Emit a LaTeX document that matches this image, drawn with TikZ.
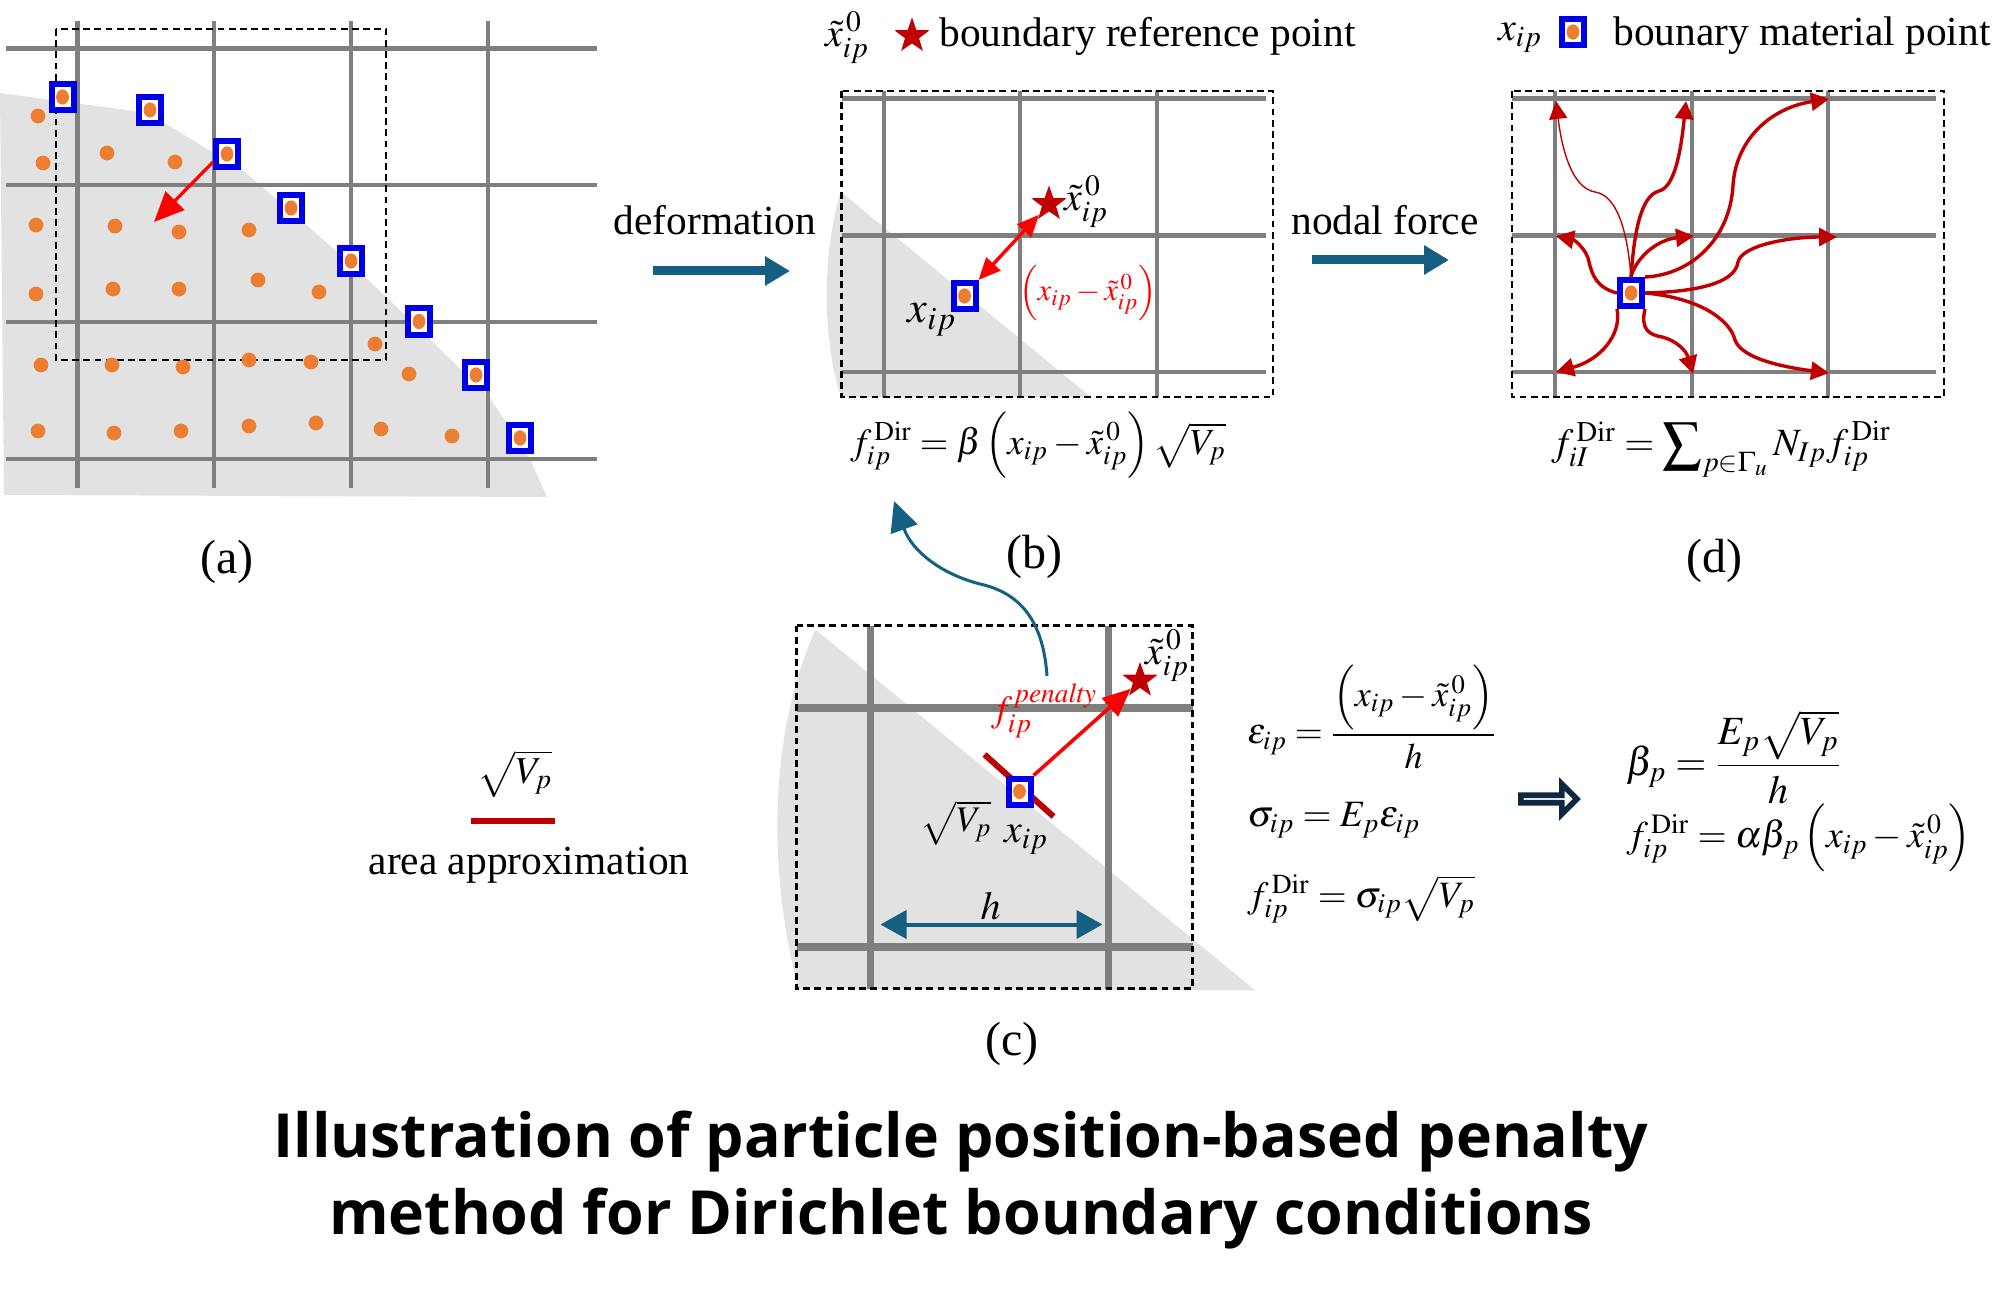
\documentclass[tikz,border=0pt]{standalone}
\usepackage{mathptmx}
\usepackage[no-math]{fontspec}
\setmainfont{Liberation Serif}
\newfontfamily\titlefont{Open Sans}
\usetikzlibrary{arrows.meta, shapes.geometric, shapes.arrows}
\definecolor{gridgray}{HTML}{7F7F7F}
\definecolor{domaingray}{HTML}{E2E2E2}
\definecolor{dotorange}{HTML}{ED7D31}
\definecolor{boxblue}{HTML}{0000E6}
\definecolor{darkred}{HTML}{C00000}
\definecolor{flowteal}{HTML}{156082}
\definecolor{navy}{HTML}{0E2841}
\newcommand{\xip}{x_{ip}}
\newcommand{\xipref}{\tilde{x}_{ip}^{\,0}}
\newcommand{\fdir}{f_{ip}^{\,\mathrm{Dir}}}
\newcommand{\sqV}{\sqrt{V_{p}}}

\begin{document}
\begin{tikzpicture}[
        x=0.5pt, y=-0.5pt,
        solidarea/.style={fill=domaingray},
        gridline/.style={draw=gridgray, line width=2.3pt},
        gridthick/.style={draw=gridgray, line width=3.6pt},
        window/.style={draw=black, line width=1.1pt, dash pattern=on 3.4pt off 2.2pt},
        partdot/.style={fill=dotorange},
        matpoint/.style={rectangle, draw=boxblue, line width=3pt, fill=white, inner sep=0pt,
            minimum width=11pt, minimum height=13pt,
            path picture={\fill[dotorange] (path picture bounding box.center) ellipse (3.2pt and 3.8pt);}},
        refstar/.style={star, star points=5, star point ratio=2.5, fill=darkred, inner sep=0pt, minimum size=18.5pt},
        txt/.style={font=\fontsize{20.7}{24}\selectfont, inner sep=0pt},
        sublabel/.style={font=\fontsize{24}{28}\selectfont, inner sep=0pt},
        eqn/.style={font=\fontsize{18.6}{22}\selectfont, inner sep=0pt},
        redarrow/.style={draw=red, line width=1.7pt, -{Triangle[length=11pt,width=9.5pt]}},
        flow/.style={draw=flowteal, line width=4.5pt, -{Triangle[length=12.5pt,width=14pt]}},
        nodal/.style={draw=darkred, line width=1.7pt, -{Triangle[length=9pt,width=9pt]}}]
    \useasboundingbox (0,0) rectangle (2013,1289);

    % panel a
    \fill[solidarea] (0,93) -- (134,111) -- (166,124) -- (245,172) -- (356,268) -- (435,344)
        -- (490,398) -- (530,459) -- (547,497) -- (4,495) -- cycle;
    \foreach \y in {48.6,185,322,459}
        \draw[gridline] (6,\y) -- (597,\y);
    \foreach \x in {77.5,214,351,488}
        \draw[gridline] (\x,21) -- (\x,488);
    \draw[window] (56,29) rectangle (386,360);
    \foreach \x/\y in {38/116,43/163,107/153,175/162,36/225,115/226,179/232,249/230,
            36/294,113/289,179/289,258/280,319/292,41/365,112/365,183/367,249/360,311/362,
            375/344,409/374,38/431,114/433,181/431,249/426,316/423,381/429,452/436}
        \fill[partdot] (\x,\y) circle (3.7pt);
    \foreach \x/\y [count=\i] in {62.5/97,150/110,227/154,291/208,351/261,419/321.5,476/375,520/438}
        \node[matpoint] (amp\i) at (\x,\y) {};
    \coordinate (atip) at (154,222);
    \draw[redarrow, line width=1.6pt, -{Triangle[length=15pt,width=13pt]}] ([yshift=-4pt]amp3.west) -- (atip);
    \node[sublabel] (alabel) at (227,562) {(a)};

    % panel b
    \node[eqn, font=\fontsize{20}{24}\selectfont] (blegx) at (847,38) {$\xipref$};
    \node[refstar] (blegstar) at (912,36) {};
    \node[txt, anchor=west] (blegtxt) at (939,36) {boundary reference point};
    \fill[solidarea] (841,192) .. controls (822,250) and (822,340) .. (841,397) -- (1091,397) -- cycle;
    \foreach \y in {98.6,235.5,372}
        \draw[gridline] (842,\y) -- (1266,\y);
    \foreach \x in {884,1020,1157}
        \draw[gridline] (\x,91) -- (\x,397);
    \draw[window] (841.5,91) rectangle (1273,397);
    \node[matpoint] (bmp) at (964.5,296) {};
    \node[refstar] (bstar) at (1049,204) {};
    \draw[redarrow, {Triangle[length=11pt,width=9.5pt]}-{Triangle[length=11pt,width=9.5pt]}] (bmp.north east) -- (bstar);
    \node[eqn, font=\fontsize{20}{24}\selectfont] (bxref) at (1086,202) {$\xipref$};
    \node[eqn, font=\fontsize{22}{26}\selectfont] (bxip) at (932,320) {$\xip$};
    \node[eqn, text=red, font=\fontsize{15.4}{18}\selectfont] (bdiff) at (1088,293) {$\left(\xip-\xipref\right)$};
    \node[eqn, font=\fontsize{18.4}{22}\selectfont] (beq) at (1038,445) {$\fdir=\beta\left(\xip-\xipref\right)\sqV$};
    \node[sublabel] (blabel) at (1034,557) {(b)};

    % arrows between panels
    \node[txt] (deform) at (715,220) {deformation};
    \coordinate (defa) at (653,271);
    \coordinate (defb) at (790,271);
    \draw[flow] (defa) -- (defb);
    \node[txt] (nodalf) at (1385,220) {nodal force};
    \coordinate (noda) at (1312,260);
    \coordinate (nodb) at (1449,260);
    \draw[flow] (noda) -- (nodb);

    % panel d
    \node[eqn, font=\fontsize{20}{24}\selectfont] (dlegx) at (1520,38) {$\xip$};
    \node[matpoint] (dlegmp) at (1573,32) {};
    \node[txt, anchor=west] (dlegtxt) at (1613,36) {bounary material point};
    \foreach \y in {98.6,235.5,372}
        \draw[gridline] (1512,\y) -- (1936,\y);
    \foreach \x in {1555,1692,1828}
        \draw[gridline] (\x,91) -- (\x,397);
    \draw[window] (1512,91) rectangle (1944,397);
    \node[matpoint] (dmp) at (1631,293) {};
    \coordinate (n00) at (1556,101);
    \coordinate (n10) at (1686,101);
    \coordinate (n20) at (1829,99);
    \coordinate (n01) at (1556,236);
    \coordinate (n11) at (1694,236);
    \coordinate (n21) at (1837,237);
    \coordinate (n02) at (1556,372);
    \coordinate (n12) at (1693,374);
    \coordinate (n22) at (1829,373);
    \draw[nodal, line width=0.7pt] (dmp.north) .. controls (1627,225) and (1615,195) .. (1595,192) .. controls (1572,188) and (1562,150) .. (n00);
    \draw[nodal] (dmp.north) .. controls (1634,235) and (1640,196) .. (1659,191) .. controls (1675,187) and (1681,150) .. (n10);
    \draw[nodal] (dmp.north east) .. controls (1690,275) and (1730,240) .. (1733,185) .. controls (1736,140) and (1770,108) .. (n20);
    \draw[nodal] (dmp.west) .. controls (1597,288) and (1592,275) .. (1589,262) .. controls (1587,250) and (1575,240) .. (n01);
    \draw[nodal] (dmp.north) .. controls (1635,260) and (1655,240) .. (n11);
    \draw[nodal] (dmp.east) .. controls (1690,292) and (1735,285) .. (1738,262) .. controls (1742,245) and (1790,237) .. (n21);
    \draw[nodal] (dmp.south west) .. controls (1622,335) and (1600,360) .. (n02);
    \draw[nodal] (dmp.south east) .. controls (1640,330) and (1650,335) .. (1662,337) .. controls (1675,340) and (1686,350) .. (n12);
    \draw[nodal] (dmp.east) .. controls (1700,298) and (1730,320) .. (1735,340) .. controls (1742,360) and (1790,368) .. (n22);
    \node[matpoint] at (dmp) {};
    \node[eqn, font=\fontsize{19.3}{23}\selectfont] (deq) at (1721,449) {$f_{iI}^{\,\mathrm{Dir}}=\displaystyle\sum\nolimits_{p\in\Gamma_{u}}N_{Ip}\fdir$};
    \node[sublabel] (dlabel) at (1714,561) {(d)};

    % panel c
    \fill[solidarea] (815.5,629.5) -- (1255.5,990.5) -- (798.5,988.5) .. controls (768,875) and (768,735) .. (815.5,629.5) -- cycle;
    \foreach \y in {707.5,947}
        \draw[gridthick, line width=4pt] (796.5,\y) -- (1192.5,\y);
    \foreach \x in {870.5,1108.5}
        \draw[gridthick] (\x,625.5) -- (\x,988.5);
    \draw[window] (796.5,625.5) rectangle (1192.5,988.5);
    \coordinate (acrossa) at (984.5,754.5);
    \coordinate (acrossb) at (1053.5,816.5);
    \draw[darkred, line width=3pt] (acrossa) -- (acrossb);
    \node[matpoint] (cmp) at (1019.5,791.5) {};
    \node[refstar] (cstar) at (1140,680.5) {};
    \draw[redarrow, line width=1.8pt, -{Triangle[length=14pt,width=12pt]}] (cmp.north east) -- (cstar);
    \node[eqn, font=\fontsize{20}{24}\selectfont] (cxref) at (1167,656) {$\xipref$};
    \node[eqn, text=red, font=\fontsize{18.5}{22}\selectfont] (cpen) at (1044,711) {$f_{ip}^{\,\mathit{penalty}}$};
    \node[eqn, font=\fontsize{18}{22}\selectfont] (csq) at (956,823) {$\sqV$};
    \node[eqn, font=\fontsize{20}{24}\selectfont] (cxip) at (1026,840) {$\xip$};
    \node[eqn, font=\fontsize{20}{24}\selectfont] (ch) at (990.5,905.5) {$h$};
    \coordinate (cha) at (880.5,924.5);
    \coordinate (chb) at (1102.5,924.5);
    \draw[draw=flowteal, line width=2pt, {Triangle[length=13pt,width=14pt]}-{Triangle[length=13pt,width=14pt]}] (cha) -- (chb);
    \node[sublabel] (clabel) at (1012,1044) {(c)};

    % arrow from c up to b
    \coordinate (upa) at (1047,676);
    \coordinate (upb) at (894,501);
    \draw[draw=flowteal, line width=1.5pt, -{Triangle[length=15pt,width=14pt]}] (upa) .. controls (1043,616) and (1016,592) .. (980,584) .. controls (941,574) and (912,551) .. (upb);

    % legend left of c
    \node[eqn, font=\fontsize{19}{23}\selectfont] (lsq) at (515,774) {$\sqV$};
    \coordinate (lbara) at (471,821);
    \coordinate (lbarb) at (555,821);
    \draw[darkred, line width=3pt] (lbara) -- (lbarb);
    \node[txt] (ltxt) at (529,865) {area approximation};

    % equations
    \node[eqn, anchor=west, font=\fontsize{18}{22}\selectfont] (eps) at (1247,717) {$\varepsilon_{ip}=\displaystyle\frac{\left(\xip-\xipref\right)}{h}$};
    \node[eqn, anchor=west] (sig) at (1247,820) {$\sigma_{ip}=E_{p}\varepsilon_{ip}$};
    \node[eqn, anchor=west] (fsig) at (1247,899) {$\fdir=\sigma_{ip}\sqV$};
    \node[single arrow, draw=navy, fill=white, line width=2.8pt, inner sep=0pt,
        minimum width=15pt, minimum height=28pt, single arrow head extend=4.2pt,
        single arrow head indent=0pt] (impl) at (1547,799) {};
    \node[eqn, anchor=west, font=\fontsize{20}{24}\selectfont] (beta) at (1626,757) {$\beta_{p}=\displaystyle\frac{E_{p}\sqV}{h}$};
    \node[eqn, anchor=west, font=\fontsize{18.8}{22}\selectfont] (falpha) at (1626,838) {$\fdir=\alpha\beta_{p}\left(\xip-\xipref\right)$};

    % title
    \node[inner sep=0pt, align=center, font=\titlefont\bfseries\fontsize{30.4}{38.5}\selectfont] (title) at (961,1180)
        {Illustration of particle position-based penalty\\method for Dirichlet boundary conditions};
\end{tikzpicture}
\end{document}
